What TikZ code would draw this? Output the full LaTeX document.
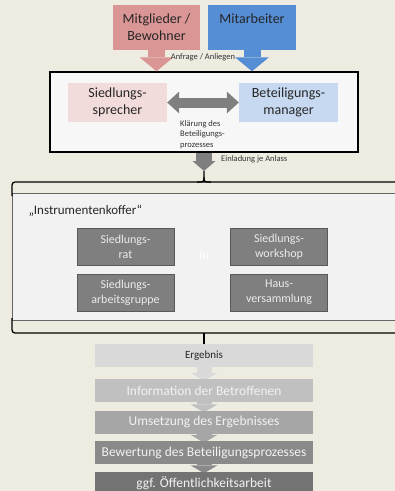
\documentclass[tikz,border=0pt]{standalone}
\usepackage{fontspec}
\setmainfont{Carlito}
\usetikzlibrary{arrows.meta, positioning, backgrounds}
\definecolor{bgbeige}{HTML}{EEEBE1}
\definecolor{memberred}{HTML}{D99694}
\definecolor{staffblue}{HTML}{558ED5}
\definecolor{speakerpink}{HTML}{F2DCDB}
\definecolor{managerblue}{HTML}{C6D9F1}
\definecolor{toolgray}{HTML}{7F7F7F}
\definecolor{panelgray}{HTML}{F2F2F2}
\definecolor{resultgray}{HTML}{D9D9D9}
\definecolor{infogray}{HTML}{C0C0C0}
\definecolor{dogray}{HTML}{A6A6A6}
\definecolor{ratinggray}{HTML}{8A8A8A}
\definecolor{publicgray}{HTML}{737373}

\begin{document}
\begin{tikzpicture}[
    x=1pt, y=-1pt,
    role/.style={minimum width=87pt, minimum height=45pt, inner sep=0pt,
                 align=center, text=black!85, font=\fontsize{14}{17}\selectfont},
    partner/.style={minimum width=99pt, minimum height=39pt, inner sep=0pt,
                    align=center, text=black!85, font=\fontsize{14}{17}\selectfont},
    tool/.style={draw=black!65, line width=0.8pt, fill=toolgray, text=white!92!black,
                 minimum width=97pt, minimum height=37pt, inner sep=0pt,
                 align=center, font=\fontsize{12}{15}\selectfont},
    stepbox/.style={fill=#1, minimum width=218pt, minimum height=23pt, inner sep=0pt,
                    text=white!95!black, font=\fontsize{13.5}{16}\selectfont},
    note/.style={font=\fontsize{8.5}{10.5}\selectfont, text=black!80, inner sep=1pt},
    fat/.style={line width=#1},
    bracket/.style={line width=1.3pt, black, rounded corners=3pt},
    steparrow/.style={line width=15pt, #1,
                      -{Triangle[length=8pt, width=27pt, line width=0pt]}}
  ]
    \begin{scope}[on background layer]
      \fill[bgbeige] (0,0) rectangle (395,491);
    \end{scope}
    \useasboundingbox (0,0) rectangle (395,491);

    % who asks
    \node[role, fill=memberred] (members) at (156.5,27.5) {Mitglieder /\\Bewohner};
    \node[role, fill=staffblue, minimum width=88pt] (staff) at (252,27.5) {Mitarbeiter\\\mbox{}};

    \node[draw=black, line width=1.5pt, fill=panelgray!60!white,
          minimum width=308pt, minimum height=80pt] (frame) at (204,112) {};
    \node[partner, fill=speakerpink] (speaker) at (117.5,102.5) {Siedlungs-\\sprecher};
    \node[partner, fill=managerblue] (manager) at (288.5,102.5) {Beteiligungs-\\manager};

    \draw[fat=17pt, memberred, -{Triangle[length=14pt, width=34pt, line width=0pt]}]
      (members.south) -- (members.south |- frame.north);
    \draw[fat=17pt, staffblue, -{Triangle[length=14pt, width=34pt, line width=0pt]}]
      (staff.south) -- (staff.south |- frame.north);
    \node[note] (request) at (203,57) {Anfrage / Anliegen};

    \draw[fat=10pt, toolgray,
          {Triangle[length=12pt, width=22pt, line width=0pt]}-{Triangle[length=12pt, width=22pt, line width=0pt]}]
      (speaker.east) -- (manager.west);
    \node[note, anchor=north west, align=left] (clarify) at (179,119)
      {Klärung des\\Beteiligungs-\\prozesses};

    % invitation
    \coordinate (bracetop) at (204,171);
    \draw[fat=16pt, toolgray, -{Triangle[length=10pt, width=23pt, line width=0pt]}]
      (frame.south) -- (bracetop);
    \node[note, anchor=west] (invite) at (220,159) {Einladung je Anlass};

    % toolkit
    \node[draw=black!60, line width=0.8pt, fill=panelgray,
          minimum width=388pt, minimum height=127pt] (toolkit) at (206,256.5) {};
    \draw[bracket] (400,182) -- (12,182) -- (12,196);
    \draw[bracket] (400,333) -- (12,333) -- (12,318);
    \draw[line width=1.3pt] (197,182) .. controls (204,182) .. (204,177) -- (bracetop);
    \draw[line width=1.3pt] (211,182) .. controls (204,182) .. (204,177);

    \node[anchor=west, font=\fontsize{13}{15}\selectfont, text=black!85] (kofferlabel)
      at (25,211) {„Instrumentenkoffer“};
    \node[tool] (council) at (125.5,246.5) {Siedlungs-\\rat};
    \node[tool] (workshop) at (279,246.5) {Siedlungs-\\workshop};
    \node[tool] (workgroup) at (125.5,292.5) {Siedlungs-\\arbeitsgruppe};
    \node[tool] (assembly) at (279,292.5) {Haus-\\versammlung};
    \node[text=white, font=\fontsize{12}{15}\selectfont] (inlabel) at (204,256) {In};

    % outcome chain
    \node[stepbox=resultgray, text=black!85, font=\fontsize{11}{13}\selectfont]
      (result) at (204,355.5) {Ergebnis};
    \node[stepbox=infogray] (inform) at (204,390.5) {Information der Betroffenen};
    \node[stepbox=dogray] (apply) at (204,422) {Umsetzung des Ergebnisses};
    \node[stepbox=ratinggray] (rating) at (204,452.5) {Bewertung des Beteiligungsprozesses};
    \node[stepbox=publicgray] (public) at (204,483) {ggf. Öffentlichkeitsarbeit};

    \draw[line width=1.3pt] (204,333) -- (result.north);
    \begin{scope}[on background layer]
      \draw[steparrow=resultgray] (result.south) -- ([yshift=-2pt]inform.north);
      \draw[steparrow=infogray] (inform.south) -- ([yshift=-2pt]apply.north);
      \draw[steparrow=dogray] (apply.south) -- ([yshift=-2pt]rating.north);
      \draw[steparrow=ratinggray] (rating.south) -- ([yshift=-2pt]public.north);
    \end{scope}
  \end{tikzpicture}
\end{document}
